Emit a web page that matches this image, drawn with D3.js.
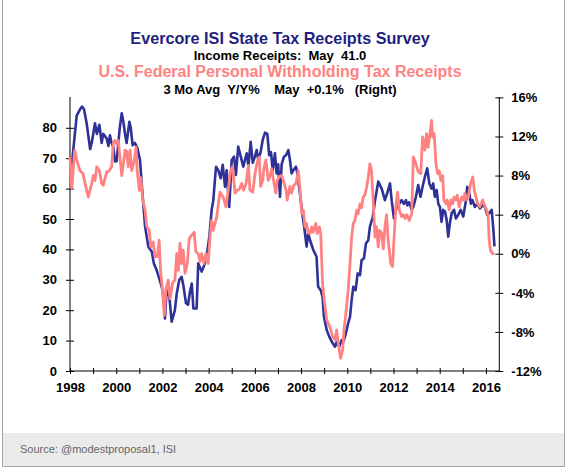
<!DOCTYPE html>
<html><head><meta charset="utf-8">
<script src="https://cdn.jsdelivr.net/npm/d3@7"></script>
<style>
html,body{margin:0;padding:0;background:#fff;}
svg{display:block;font-family:Arial,"Liberation Sans",sans-serif;}
text{white-space:pre;}
</style></head>
<body><svg id="c" width="567" height="468"></svg>
<script>
// ---- data ----
const titleText = "Evercore ISI State Tax Receipts Survey";
const sub1Text = "Income Receipts:  May  41.0";
const titleText2 = "U.S. Federal Personal Withholding Tax Receipts";
const sub2Text = "3 Mo Avg  Y/Y%    May  +0.1%   (Right)";
const sourceText = "Source: @modestproposal1, ISI";

const xTickYears = d3.range(1998, 2017);
const leftTicks = [0,10,20,30,40,50,60,70,80];
const rightTicks = [-12,-8,-4,0,4,8,12,16];

// State tax receipts survey (left axis)
const blueYears = [1998.00,1998.08,1998.29,1998.43,1998.52,1998.61,1998.72,1998.80,1998.87,1998.94,
1999.08,1999.16,1999.27,1999.37,1999.44,1999.59,1999.66,1999.73,1999.80,1999.87,1999.95,
2000.02,2000.09,2000.16,2000.24,2000.31,2000.38,2000.45,2000.57,2000.63,2000.71,2000.81,2000.91,
2001.03,2001.12,2001.25,2001.39,2001.54,2001.63,2001.75,2001.86,2001.97,
2002.04,2002.11,2002.18,2002.30,2002.40,2002.54,2002.62,2002.73,2002.83,2002.91,
2003.02,2003.11,2003.19,2003.27,2003.34,2003.48,2003.55,2003.70,2003.84,2003.94,
2004.03,2004.13,2004.20,2004.32,2004.42,2004.52,2004.61,2004.71,2004.78,2004.89,
2005.00,2005.10,2005.18,2005.28,2005.39,2005.50,2005.57,2005.65,2005.72,2005.82,2005.91,
2006.00,2006.08,2006.15,2006.25,2006.34,2006.44,2006.54,2006.62,2006.70,2006.77,2006.87,2006.94,
2007.01,2007.09,2007.16,2007.26,2007.35,2007.45,2007.52,2007.59,2007.66,2007.78,2007.84,2007.95,
2008.07,2008.17,2008.24,2008.31,2008.39,2008.53,2008.67,2008.74,2008.85,2008.93,2008.99,
2009.11,2009.22,2009.37,2009.47,2009.54,2009.65,2009.76,2009.83,2009.94,
2010.04,2010.12,2010.19,2010.26,2010.36,2010.45,2010.55,2010.62,2010.72,2010.81,2010.91,2010.98,
2011.10,2011.20,2011.34,2011.49,2011.63,2011.73,2011.85,2011.92,
2012.02,2012.14,2012.25,2012.35,2012.45,2012.54,2012.60,2012.68,2012.79,2012.86,2012.97,
2013.07,2013.17,2013.26,2013.36,2013.46,2013.55,2013.65,2013.72,2013.79,2013.87,2013.94,
2014.01,2014.08,2014.15,2014.23,2014.30,2014.37,2014.44,2014.52,2014.62,2014.70,2014.80,2014.91,
2015.02,2015.14,2015.19,2015.28,2015.35,2015.42,2015.52,2015.62,2015.74,2015.86,2015.96,
2016.06,2016.14,2016.25,2016.32,2016.37];
const blueVals = [70,68,84,86,87,86,81.5,77,73,75,
81.5,78,81,75,78,76.5,74,77.5,75,73.8,68.9,
69,75,80.4,84.8,82,78,75,82,80,74.3,75,73.5,
69.4,60,47.5,40.9,39.2,35.4,33.2,30.5,27.7,
25,17.3,26.6,24.4,16.2,20,25.5,30,31,28,
22.3,21.8,26,28.8,20.6,20.6,35.4,32.7,35.4,39.2,
44.2,53,56,67.2,66,63.4,67.8,60.6,66,54,
69.4,70.5,64.5,73.8,70.5,67.2,69.4,71.6,67.2,75.4,68.5,
70.5,72.7,69.4,72,76,78.4,78,71,72,66,71.6,65,
68,57.3,68,70.5,71,72.7,69.4,65,66,67.2,65,58.5,
51,45.3,40.9,45.3,43,39.8,37.6,27.7,26.6,24.4,17.9,
13.5,11.3,9.1,8,9.6,8,10.2,9.6,12.4,
15.7,17.9,23.4,27.7,26.6,32.1,31.5,36.5,37,42,43,47.5,
50.5,56,62.3,60,56.2,58.5,61.7,56.2,
50.2,54,55,56.2,55,56.2,54.5,55.5,53,54,57.3,
61.2,57.3,60.6,63.9,66.7,61.7,60,61.7,57.3,59.5,55,
54,49.1,53,52.5,49.7,44.2,48.6,52,53,50.2,51.3,53,
50.8,56.2,60.6,58.5,55,56.2,54,55,53.5,54.5,54,
51.3,51.9,53,46.9,41];

// Federal personal withholding tax receipts, 3 mo avg y/y % (right axis)
const pinkYears = [1998.00,1998.08,1998.20,1998.29,1998.43,1998.56,1998.72,1998.79,1998.94,
1999.01,1999.08,1999.16,1999.27,1999.37,1999.44,1999.59,1999.66,1999.73,1999.80,1999.87,1999.95,
2000.02,2000.09,2000.16,2000.24,2000.31,2000.38,2000.45,2000.52,2000.60,2000.67,2000.77,2000.86,2000.91,
2001.00,2001.06,2001.15,2001.25,2001.32,2001.43,2001.50,2001.60,2001.68,2001.78,2001.86,2001.92,2001.99,
2002.08,2002.15,2002.25,2002.33,2002.44,2002.54,2002.62,2002.69,2002.76,2002.83,2002.90,2002.98,
2003.08,2003.16,2003.27,2003.37,2003.45,2003.55,2003.63,2003.70,2003.80,2003.88,2003.98,
2004.06,2004.13,2004.20,2004.35,2004.49,2004.63,2004.75,2004.85,2004.95,
2005.04,2005.14,2005.24,2005.33,2005.43,2005.51,2005.62,2005.72,2005.79,2005.91,
2006.01,2006.10,2006.19,2006.25,2006.34,2006.39,2006.48,2006.58,2006.65,2006.73,2006.83,2006.91,2006.97,
2007.06,2007.16,2007.23,2007.35,2007.40,2007.52,2007.59,2007.69,2007.78,2007.88,2007.95,
2008.03,2008.10,2008.17,2008.24,2008.31,2008.39,2008.46,2008.53,2008.64,2008.70,2008.79,2008.85,2008.93,
2009.00,2009.11,2009.25,2009.37,2009.47,2009.54,2009.61,2009.71,2009.80,2009.86,2009.94,
2010.04,2010.12,2010.19,2010.26,2010.33,2010.41,2010.47,2010.55,2010.62,2010.69,2010.76,2010.84,2010.91,2010.98,
2011.05,2011.12,2011.20,2011.27,2011.34,2011.41,2011.49,2011.56,2011.63,2011.70,2011.77,2011.88,2011.96,
2012.02,2012.11,2012.18,2012.25,2012.35,2012.43,2012.50,2012.58,2012.68,2012.79,2012.86,2012.97,
2013.07,2013.18,2013.26,2013.36,2013.43,2013.50,2013.58,2013.65,2013.69,2013.76,2013.84,2013.91,2013.98,
2014.05,2014.13,2014.18,2014.27,2014.33,2014.41,2014.49,2014.56,2014.62,2014.70,2014.76,2014.84,2014.95,
2015.02,2015.09,2015.17,2015.24,2015.34,2015.43,2015.50,2015.57,2015.64,2015.74,2015.86,2015.96,
2016.03,2016.10,2016.14,2016.20,2016.29,2016.35];
const pinkVals = [9.9,6.7,10.6,9.6,8.5,8.2,6.5,5.8,7.2,
8.0,7.5,8.9,8.5,7.2,7.0,8.4,8.4,8.6,8.9,11.3,11.6,
11.2,11.6,9.9,8.0,9.2,10.6,10.5,8.9,10.6,8.5,9.4,10.9,8.5,
6.5,7.8,5.5,4.45,2.8,2.4,0.7,1.2,-0.3,-0.3,1.4,-1.7,-3.4,
-6.3,-3.7,-2.7,-4.6,-3.0,-2.7,0.0,-1.7,1.05,-1.0,0.36,-2.0,
-1.0,1.56,1.9,2.2,0.2,0.0,-0.8,0,-1.0,0,-1.0,
1.7,3.4,2.4,3.77,6.3,5.8,4.8,6.5,8.5,
8.9,6.2,6.5,6.6,7.2,6.5,7.2,9.05,6.5,6.3,
8.2,9.4,9.9,6.9,7.5,8.7,9.6,7.5,7.9,8.7,7.2,6.2,7.5,
7.9,8.0,7.5,6.5,5.5,6.9,6.2,7.0,7.2,8.5,6.8,
4.1,4.45,2.75,3.1,2.1,2.07,2.75,2.2,3.1,2.07,2.75,2.07,-3.0,
-4.7,-6.8,-7.5,-8.5,-8.8,-7.8,-9.2,-10.7,-9.85,-7.8,-6.1,
-3.7,-1.0,1.7,3.1,3.4,4.45,4.1,5.1,4.7,5.8,6.0,6.8,7.85,9.2,
8.5,5.5,1.7,2.75,0.7,2.4,2.07,0.5,2.75,4.0,1.4,-1.0,-1.3,
1.4,5.1,6.3,4.5,3.8,4.0,3.6,4.0,3.4,4.1,9.9,9.2,
8.4,8.2,11.95,10.6,12.3,10.9,12.3,13.65,11.95,12.3,9.2,8.2,8.5,
7.5,8.0,5.5,5.1,5.5,4.5,5.5,5.1,5.8,5.5,6.0,4.8,5.8,
5.5,6.2,5.5,5.8,7.2,7.85,6.5,5.8,5.1,4.8,5.5,4.8,
4.5,3.8,1.4,0.36,0.0,0.1];

// ---- drawing ----
const svg = d3.select("#c");
const W = 567, H = 468;
const navy = "#1f1f7e", blueC = "#2e3196", pinkC = "#ff8282";

svg.append("rect").attr("width", W).attr("height", H).attr("fill", "#fff");
// footer
svg.append("rect").attr("x", 2).attr("y", 433).attr("width", 562).attr("height", 33).attr("fill", "#ebebeb");
svg.append("text").attr("x", 20).attr("y", 453).attr("font-size", 11).attr("fill", "#666")
  .text(sourceText);
// frame
svg.append("path").attr("d", "M2.5,0V466.5H564.5V0").attr("fill", "none").attr("stroke", "#a3a3a3").attr("stroke-width", 1);

const x = d3.scaleLinear().domain([1998, 2016.58]).range([70, 499.3]);
const yL = d3.scaleLinear().domain([0, 90]).range([371, 97.4]);
const yR = d3.scaleLinear().domain([-12, 16]).range([371, 97.4]);

// titles
const cx = 280;
svg.append("text").attr("x", cx).attr("y", 44).attr("text-anchor", "middle")
  .attr("font-size", 16.2).attr("font-weight", "bold").attr("fill", navy).text(titleText);
svg.append("text").attr("x", cx).attr("y", 60).attr("text-anchor", "middle")
  .attr("font-size", 13).attr("font-weight", "bold").attr("fill", "#000").text(sub1Text);
svg.append("text").attr("x", cx).attr("y", 77).attr("text-anchor", "middle")
  .attr("font-size", 16).attr("font-weight", "bold").attr("fill", pinkC).text(titleText2);
svg.append("text").attr("x", cx).attr("y", 94).attr("text-anchor", "middle")
  .attr("font-size", 13).attr("font-weight", "bold").attr("fill", "#000").text(sub2Text);

// axes
function styleAxis(g) {
  g.select(".domain").remove();
  g.selectAll("line").attr("stroke", "#000").attr("stroke-width", 1);
  g.selectAll("text").attr("font-size", 13).attr("font-weight", "bold").attr("fill", "#000")
    .attr("font-family", "Arial, 'Liberation Sans', sans-serif");
}
const gx = svg.append("g").attr("transform", "translate(0,371)")
  .call(d3.axisBottom(x).tickValues(xTickYears).tickSize(3).tickPadding(9)
    .tickFormat(d => d % 2 === 0 ? String(d) : ""));
styleAxis(gx);
gx.selectAll(".tick line").attr("y1", -3).attr("y2", 3);

const gl = svg.append("g").attr("transform", "translate(70,0)")
  .call(d3.axisLeft(yL).tickValues(leftTicks).tickSize(4).tickPadding(9));
styleAxis(gl);
gl.selectAll(".tick line").attr("x1", -4).attr("x2", 4);

const gr = svg.append("g").attr("transform", "translate(499.3,0)")
  .call(d3.axisRight(yR).tickValues(rightTicks).tickSize(4).tickPadding(8).tickFormat(d => d + "%"));
styleAxis(gr);
gr.selectAll(".tick line").attr("x1", -4).attr("x2", 4);

// axis lines
svg.append("line").attr("x1", 70).attr("x2", 499.3).attr("y1", 371).attr("y2", 371).attr("stroke", "#000");
svg.append("line").attr("x1", 70).attr("x2", 70).attr("y1", 97).attr("y2", 371).attr("stroke", "#000");
svg.append("line").attr("x1", 499.3).attr("x2", 499.3).attr("y1", 97).attr("y2", 371).attr("stroke", "#000");

// series
const blueData = blueYears.map((t, i) => [t, blueVals[i]]);
const pinkData = pinkYears.map((t, i) => [t, pinkVals[i]]);

svg.append("path").datum(blueData)
  .attr("d", d3.line().x(d => x(d[0])).y(d => yL(d[1])))
  .attr("fill", "none").attr("stroke", blueC).attr("stroke-width", 2.6).attr("stroke-linejoin", "round");
svg.append("path").datum(pinkData)
  .attr("d", d3.line().x(d => x(d[0])).y(d => yR(d[1])))
  .attr("fill", "none").attr("stroke", pinkC).attr("stroke-width", 2.8).attr("stroke-linejoin", "round");
</script></body></html>
